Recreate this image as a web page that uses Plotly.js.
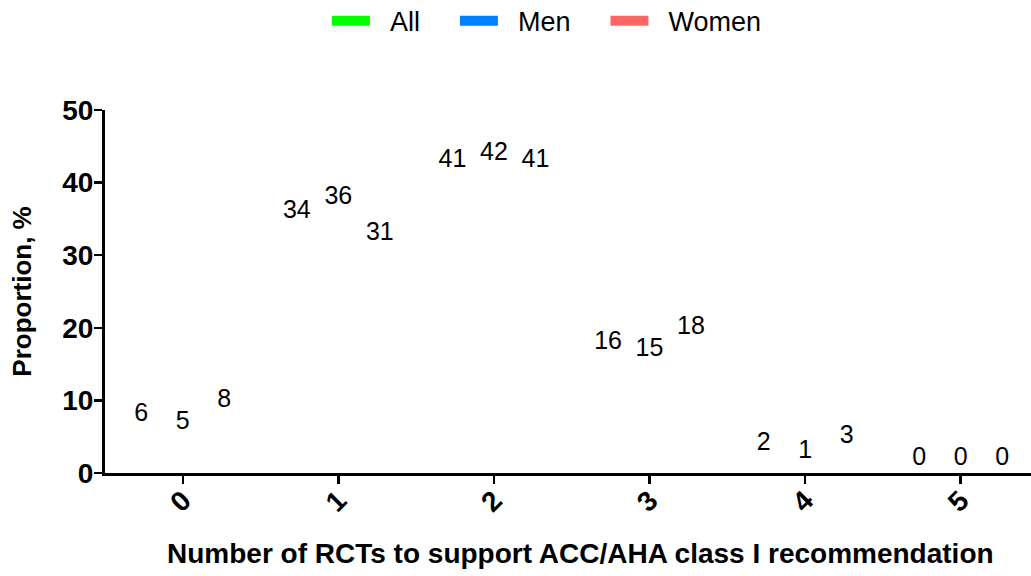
<!DOCTYPE html>
<html>
<head>
<meta charset="utf-8">
<script src="https://cdn.plot.ly/plotly-3.0.1.min.js"></script>
<style>
  html, body { margin: 0; padding: 0; background: #ffffff; }
  #chart { width: 1031px; height: 576px; }
</style>
</head>
<body>
<div id="chart"></div>
<script>
// ---- data ----
const categories = ['0', '1', '2', '3', '4', '5'];
const allValues = [6, 34, 41, 16, 2, 0];
const menValues = [5, 36, 42, 15, 1, 0];
const womenValues = [8, 31, 41, 18, 3, 0];
const seriesNames = ['All', 'Men', 'Women'];
const seriesColors = ['#00ff00', '#0080ff', '#ff6666'];
const yTickValues = [0, 10, 20, 30, 40, 50];
const xTitle = 'Number of RCTs to support ACC/AHA class I recommendation';
const yTitle = 'Proportion, %';

const FONT = 'Liberation Sans, Arial, sans-serif';
const NB = '&nbsp;';
const seriesValues = [allValues, menValues, womenValues];

const traces = [];
seriesValues.forEach(function (vals, i) {
  traces.push({
    type: 'bar',
    name: seriesNames[i],
    x: categories,
    y: vals,
    text: vals.map(String),
    textposition: 'outside',
    textfont: { family: FONT, size: 25, color: '#000000' },
    constraintext: 'none',
    cliponaxis: false,
    marker: { color: 'rgba(0,0,0,0)' },
    showlegend: false,
    hoverinfo: 'skip'
  });
});
// legend entries
seriesNames.forEach(function (name, i) {
  traces.push({
    type: 'scatter',
    mode: 'lines',
    name: NB + NB + name + NB + NB + NB + NB,
    x: [null],
    y: [null],
    line: { color: seriesColors[i], width: 13 },
    hoverinfo: 'skip'
  });
});

const layout = {
  width: 1031,
  height: 576,
  paper_bgcolor: '#ffffff',
  plot_bgcolor: '#ffffff',
  margin: { l: 105, r: 0, t: 110, b: 103, pad: 0, autoexpand: false },
  barmode: 'group',
  bargap: 0.2,
  bargroupgap: 0,
  showlegend: true,
  legend: {
    orientation: 'h',
    xref: 'container',
    yref: 'container',
    x: 0.545,
    xanchor: 'center',
    y: 0.963,
    yanchor: 'middle',
    font: { family: FONT, size: 27, color: '#000000' },
    itemwidth: 38
  },
  annotations: [{
    text: xTitle,
    xref: 'paper',
    yref: 'paper',
    x: 0.513,
    y: -0.223,
    xanchor: 'center',
    yanchor: 'middle',
    showarrow: false,
    font: { family: FONT, size: 28, color: '#000000', weight: 'bold' }
  }],
  xaxis: {
    type: 'category',
    range: [-0.5, 5.452],
    showline: true,
    linewidth: 3,
    linecolor: '#000000',
    ticks: 'outside',
    ticklen: 8,
    tickwidth: 2.5,
    tickcolor: '#000000',
    tickangle: -45,
    ticklabelstandoff: -11,
    tickfont: { family: FONT, size: 28, color: '#000000', weight: 'bold' },
    showgrid: false,
    zeroline: false
  },
  yaxis: {
    range: [0, 50],
    tickvals: yTickValues,
    showline: true,
    linewidth: 3,
    linecolor: '#000000',
    ticks: 'outside',
    ticklen: 8,
    tickwidth: 2.5,
    tickcolor: '#000000',
    ticklabelstandoff: -5,
    tickfont: { family: FONT, size: 28, color: '#000000', weight: 'bold' },
    showgrid: false,
    zeroline: false,
    automargin: true,
    title: { text: yTitle, standoff: 24, font: { family: FONT, size: 26, color: '#000000', weight: 'bold' } }
  }
};

Plotly.newPlot('chart', traces, layout, { displayModeBar: false, staticPlot: true });
</script>
</body>
</html>
